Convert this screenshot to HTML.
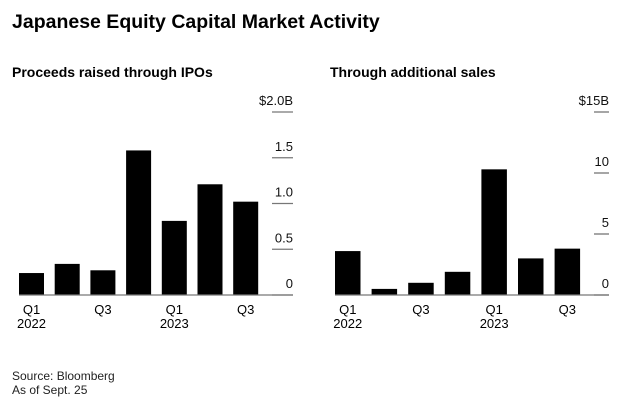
<!DOCTYPE html>
<html><head><meta charset="utf-8"><style>
body{margin:0;background:#fff;font-family:"Liberation Sans",Arial,sans-serif;}
svg text{font-family:"Liberation Sans",Arial,sans-serif;}
</style></head><body>
<svg width="640" height="413">
<text x="12" y="28" font-size="19.5" font-weight="bold" fill="#000">Japanese Equity Capital Market Activity</text>
<text x="12" y="77" font-size="14" font-weight="bold">Proceeds raised through IPOs</text>
<text x="330" y="77" font-size="14" font-weight="bold">Through additional sales</text>
<g id="left"></g>
<g id="right"></g>
<text x="12" y="380" font-size="12" fill="#222">Source: Bloomberg</text>
<text x="12" y="394" font-size="12" fill="#222">As of Sept. 25</text>
</svg>
<script>
const quarters=["Q1","Q2","Q3","Q4","Q1","Q2","Q3"];
const xLabels=["Q1","","Q3","","Q1","","Q3"];
const yearLabels=["2022","","","","2023","",""];
const ipoValues=[0.24,0.34,0.27,1.58,0.81,1.21,1.02];
const ipoTicks=[0,0.5,1.0,1.5,2.0];
const ipoTickLabels=["0","0.5","1.0","1.5","$2.0B"];
const salesValues=[3.6,0.5,1.0,1.9,10.3,3.0,3.8];
const salesTicks=[0,5,10,15];
const salesTickLabels=["0","5","10","$15B"];
const NS="http://www.w3.org/2000/svg";
function mk(p,t,a){const e=document.createElementNS(NS,t);for(const k in a)e.setAttribute(k,a[k]);p.appendChild(e);return e;}
function draw(g,cfg){
  const y=v=>cfg.y0-(v/cfg.max)*(cfg.y0-cfg.yTop);
  const x=i=>cfg.x0+i*cfg.pitch;
  cfg.ticks.forEach((t,i)=>{
    const l=mk(g,"line",{x1:cfg.tx1,x2:cfg.tx2,y1:y(t),y2:y(t),stroke:"#777","stroke-width":1.3});
    
    
    const tx=mk(g,"text",{x:cfg.tx2,y:y(t)-7,"font-size":13,"text-anchor":"end",fill:"#111"});
    tx.textContent=cfg.labels[i];
    
    
  });
  cfg.values.forEach((v,i)=>{
    const r=mk(g,"rect",{x:x(i),y:y(v),width:cfg.bw,height:y(0)-y(v),fill:"#000"});
    
    
    if(xLabels[i]){
      const t=mk(g,"text",{x:x(i)+cfg.bw/2,y:cfg.y0+19,"font-size":13,"text-anchor":"middle"});
      t.textContent=xLabels[i];
      
      
    }
    if(yearLabels[i]){
      const t=mk(g,"text",{x:x(i)+cfg.bw/2,y:cfg.y0+33,"font-size":13,"text-anchor":"middle"});
      t.textContent=yearLabels[i];
      
      
    }
  });
  const b=mk(g,"line",{x1:cfg.x0,x2:cfg.tx2,y1:cfg.y0,y2:cfg.y0,stroke:"#777","stroke-width":1.3});
  
  
}
draw(document.getElementById("left"),{values:ipoValues,ticks:ipoTicks,labels:ipoTickLabels,max:2,y0:295,yTop:112,x0:19,pitch:35.7,bw:25,tx1:272,tx2:293});
draw(document.getElementById("right"),{values:salesValues,ticks:salesTicks,labels:salesTickLabels,max:15,y0:295,yTop:112,x0:335,pitch:36.6,bw:25.5,tx1:594,tx2:609});
</script>
</body></html>
